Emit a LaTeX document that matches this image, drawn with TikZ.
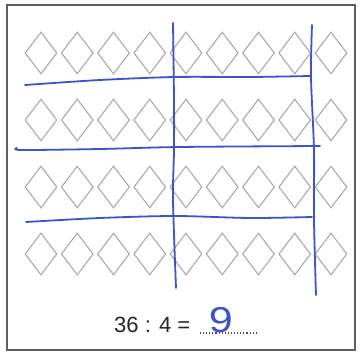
\documentclass[tikz,border=0pt]{standalone}
\usepackage{fontspec}
\setmainfont{Liberation Sans}
\usetikzlibrary{shapes.geometric}
\definecolor{pen}{RGB}{62,84,198}
\definecolor{dgray}{RGB}{170,170,170}
\definecolor{frame}{RGB}{95,95,95}
\begin{document}
\begin{tikzpicture}[x=1pt,y=-1pt,
  gem/.style={draw=dgray, line width=1.1pt, shape=diamond, inner sep=0pt,
    minimum width=32pt, minimum height=42pt},
  stroke/.style={draw=pen, line width=1.8pt, line cap=round, line join=round},
  sum/.style={font=\fontsize{22}{24}\selectfont, text=black!85, inner sep=0pt}]
\useasboundingbox (0,0) rectangle (360,353);
\fill[white] (0,0) rectangle (360,353);
\draw[frame, line width=1.3pt] (7,5) rectangle (355,350);
% diamonds
\foreach \r in {1,...,4}{
  \foreach \c in {1,...,9}{
    \node[gem] (d-\r-\c) at ({41+36.25*(\c-1)},{53+67*(\r-1)}) {};
  }
}
% handwritten vertical strokes
\draw[stroke] plot[smooth] coordinates {(173,23) (174,100) (174,150) (173,200) (176,288)};
\draw[stroke] plot[smooth] coordinates {(312,25) (311,77) (314,150) (314,220) (316,295)};
% handwritten horizontal strokes
\draw[stroke] plot[smooth] coordinates {(25,85) (100,80) (175,77) (250,77) (310,76)};
\draw[stroke] plot[smooth] coordinates {(17,148) (22,150) (100,149) (180,147) (320,146)};
\draw[stroke] plot[smooth] coordinates {(26,222) (100,218) (175,216) (250,218) (312,217)};
% equation
\node[sum, anchor=base west] (eq) at (114,333) {36 : 4 =};
\coordinate (dl) at (200,333);
\coordinate (dr) at (256,333);
\draw[black!70, line width=1.1pt, dotted] (dl) -- (dr);
\node[anchor=base, text=pen, inner sep=0pt, font=\fontsize{36}{36}\selectfont,
  xscale=1.2, transform shape] (ans) at (221,333) {9};
\end{tikzpicture}
\end{document}
